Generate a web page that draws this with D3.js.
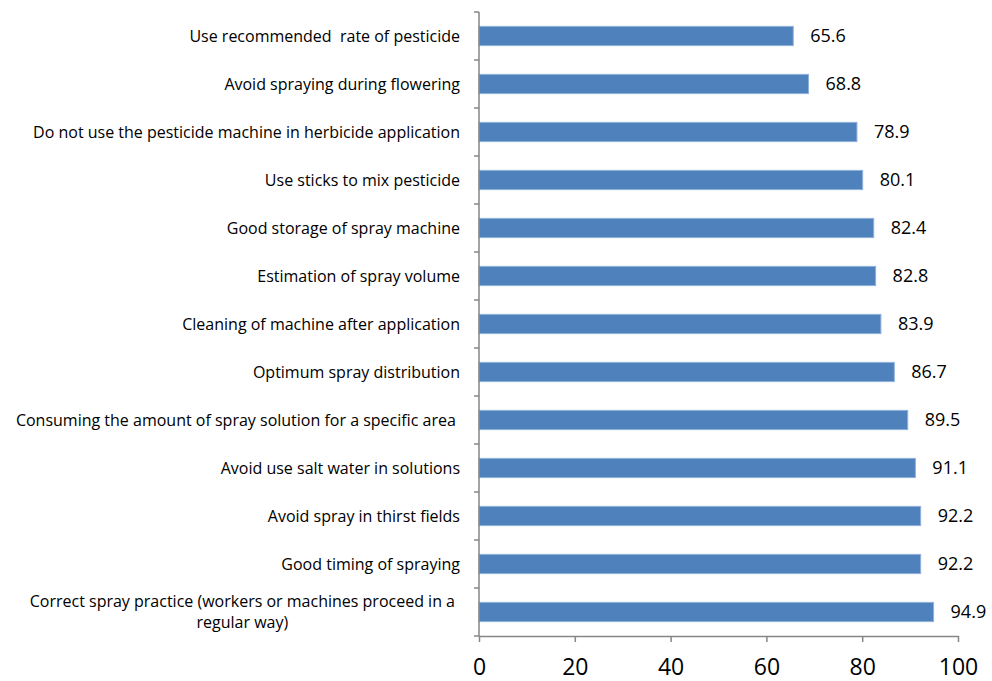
<!DOCTYPE html>
<html>
<head>
<meta charset="utf-8">
<script src="https://cdn.jsdelivr.net/npm/d3@7"></script>
<style>
  html, body { margin: 0; padding: 0; background: #fff; }
  svg { display: block; }
</style>
</head>
<body>
<svg id="chart" width="992" height="681"></svg>
<script>
// Practices, listed top to bottom
const categories = [
  "Use recommended  rate of pesticide",
  "Avoid spraying during flowering",
  "Do not use the pesticide machine in herbicide application",
  "Use sticks to mix pesticide",
  "Good storage of spray machine",
  "Estimation of spray volume",
  "Cleaning of machine after application",
  "Optimum spray distribution",
  "Consuming the amount of spray solution for a specific area ",
  "Avoid use salt water in solutions",
  "Avoid spray in thirst fields",
  "Good timing of spraying",
  "Correct spray practice (workers or machines proceed in a|regular way)"
];
const values = [65.6, 68.8, 78.9, 80.1, 82.4, 82.8, 83.9, 86.7, 89.5, 91.1, 92.2, 92.2, 94.9];
const xTicks = [0, 20, 40, 60, 80, 100];

(function draw() {
  const svg = d3.select("#chart");
  const plotLeft = 479, plotRight = 958, plotTop = 12, plotBottom = 636;
  const font = "'Open Sans', 'Noto Sans', sans-serif";
  const axisColor = "#868686";

  const x = d3.scaleLinear().domain([0, 100]).range([plotLeft, plotRight]);
  const band = d3.scaleBand().domain(d3.range(categories.length)).range([plotTop, plotBottom]);
  const barH = band.bandwidth() * 0.4;

  // Bars
  svg.append("g").selectAll("rect").data(values).join("rect")
    .attr("x", x(0))
    .attr("y", (d, i) => band(i) + band.bandwidth() / 2 - barH / 2)
    .attr("width", d => x(d) - x(0))
    .attr("height", barH)
    .attr("fill", "#4F81BD")
    .attr("stroke", "#8eb0da")
    .attr("stroke-width", 1);

  // Value labels
  svg.append("g").selectAll("text").data(values).join("text")
    .attr("x", d => x(d) + 17)
    .attr("y", (d, i) => band(i) + band.bandwidth() / 2)
    .attr("dy", "0.35em")
    .attr("font-family", font)
    .attr("font-size", 18)
    .attr("fill", "#000")
    .text(d => d.toFixed(1));

  // Category axis line with tick marks between bands
  svg.append("line")
    .attr("x1", plotLeft).attr("x2", plotLeft)
    .attr("y1", plotTop).attr("y2", plotBottom)
    .attr("stroke", axisColor).attr("stroke-width", 1.5);
  svg.append("g").selectAll("line").data(d3.range(categories.length + 1)).join("line")
    .attr("x1", plotLeft - 5).attr("x2", plotLeft)
    .attr("y1", i => plotTop + i * band.step()).attr("y2", i => plotTop + i * band.step())
    .attr("stroke", axisColor).attr("stroke-width", 1.5);

  // Category labels (right aligned; wrapped lines centred within their block)
  const labelRight = 460;
  const labelSize = 16;
  const labels = svg.append("g");
  categories.forEach((c, i) => {
    const lines = c.split("|");
    const cy = band(i) + band.bandwidth() / 2;
    if (lines.length === 1) {
      labels.append("text")
        .attr("x", labelRight).attr("y", cy).attr("dy", "0.35em")
        .attr("text-anchor", "end")
        .attr("font-family", font).attr("font-size", labelSize).attr("fill", "#000")
        .style("white-space", "pre")
        .text(c);
    } else {
      const lh = 20.5;
      const ts = lines.map((l, k) => labels.append("text")
        .attr("y", cy + (k - (lines.length - 1) / 2) * lh).attr("dy", "0.35em")
        .attr("text-anchor", "middle")
        .attr("font-family", font).attr("font-size", labelSize).attr("fill", "#000")
        .text(l));
      const w = d3.max(ts, t => t.node().getComputedTextLength());
      ts.forEach(t => t.attr("x", labelRight - 5 - w / 2));
    }
  });

  // Value axis
  const xAxis = d3.axisBottom(x).tickValues(xTicks).tickSize(6).tickSizeOuter(0).tickFormat(d3.format("d"));
  const gx = svg.append("g").attr("transform", `translate(0,${plotBottom})`).call(xAxis);
  gx.select(".domain").attr("stroke", axisColor).attr("stroke-width", 1.5);
  gx.selectAll(".tick line").attr("stroke", axisColor).attr("stroke-width", 1.5);
  gx.selectAll(".tick text")
    .attr("y", 22.5)
    .attr("font-family", font).attr("font-size", 23).attr("fill", "#000");
})();
</script>
</body>
</html>
